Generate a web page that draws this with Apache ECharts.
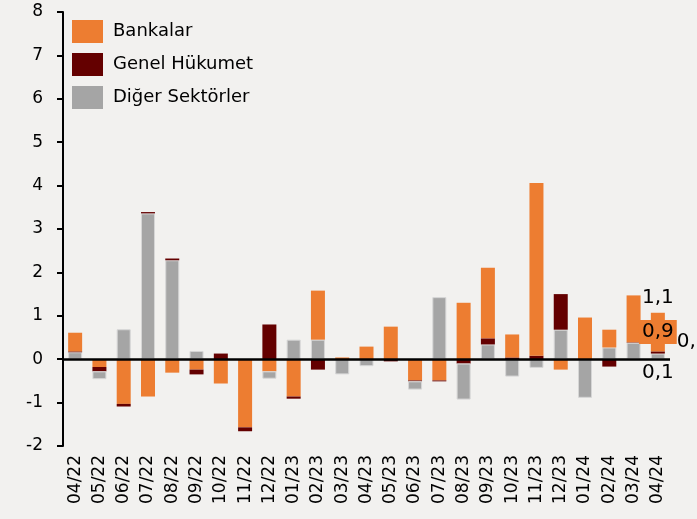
<!DOCTYPE html>
<html>
<head>
<meta charset="utf-8">
<script src="https://cdn.jsdelivr.net/npm/echarts@6/dist/echarts.min.js"></script>
<style>
  html, body { margin: 0; padding: 0; background: #F2F1EF; }
  #chart { width: 697px; height: 519px; }
</style>
</head>
<body>
<div id="chart"></div>
<script>
const categories = ['04/22', '05/22', '06/22', '07/22', '08/22', '09/22', '10/22', '11/22', '12/22',
  '01/23', '02/23', '03/23', '04/23', '05/23', '06/23', '07/23', '08/23', '09/23', '10/23', '11/23', '12/23',
  '01/24', '02/24', '03/24', '04/24'];
const bankalar = [0.43, -0.18, -1.03, -0.86, -0.31, -0.24, -0.56, -1.57, -0.28,
  -0.86, 1.13, 0.04, 0.29, 0.75, -0.49, -0.49, 1.30, 1.63, 0.53, 3.98, -0.24,
  0.96, 0.41, 1.08, 0.89];
const genelHukumet = [0.02, -0.10, -0.06, 0.03, 0.04, -0.11, 0.13, -0.09, 0.80,
  -0.05, -0.24, 0, 0, -0.05, -0.02, -0.02, -0.10, 0.14, 0.04, 0.08, 0.82,
  0, -0.17, 0.01, 0.05];
const digerSektorler = [0.16, -0.18, 0.69, 3.36, 2.28, 0.19, 0, 0, -0.17,
  0.45, 0.45, -0.35, -0.16, 0, -0.19, 1.43, -0.83, 0.34, -0.40, -0.20, 0.68,
  -0.89, 0.27, 0.38, 0.13];
const yTicks = { min: -2, max: 8, interval: 1 };
// labels written next to the last bar
const lastLabels = { total: '1,1', bankalar: '0,9', genel: '0,1', diger: '0,1' };

const FONT = 'DejaVu Sans';
const C_BANK = '#ED7D31', C_GOV = '#640000', C_OTHER = '#A5A5A5';
const last = categories.length - 1;

// positives stack gray -> red -> orange, negatives orange -> red -> gray
const pos = arr => arr.map(v => (v > 0 ? v : '-'));
const neg = arr => arr.map(v => (v < 0 ? v : '-'));

function withLabel(data, label) {
  const out = data.slice();
  out[last] = { value: data[last], label: Object.assign({ show: true, color: '#000', fontFamily: FONT, fontSize: 20 }, label) };
  return out;
}

const lastTotal = [bankalar, genelHukumet, digerSektorler]
  .reduce((s, a) => s + (a[last] > 0 ? a[last] : 0), 0);

const chart = echarts.init(document.getElementById('chart'));
chart.setOption({
  animation: false,
  backgroundColor: '#F2F1EF',
  textStyle: { fontFamily: FONT },
  grid: { left: 63, right: 27, top: 12, bottom: 73 },
  legend: {
    orient: 'vertical',
    left: 67,
    top: 15,
    itemWidth: 31,
    itemHeight: 23,
    itemGap: 10,
    icon: 'rect',
    itemStyle: { borderWidth: 0 },
    data: ['Bankalar', 'Genel Hükumet', 'Diğer Sektörler'],
    textStyle: { fontSize: 18, color: '#000', fontFamily: FONT, padding: [0, 0, 0, 5] }
  },
  xAxis: {
    type: 'category',
    data: categories,
    axisLine: { show: false, onZero: false },
    axisTick: { show: false },
    axisLabel: { rotate: 90, interval: 0, margin: 9, fontSize: 17, color: '#000', fontFamily: FONT }
  },
  yAxis: {
    type: 'value',
    min: yTicks.min,
    max: yTicks.max,
    interval: yTicks.interval,
    axisLine: { show: true, lineStyle: { color: '#000', width: 2 } },
    axisTick: { show: true, length: 6, lineStyle: { color: '#000', width: 2 } },
    splitLine: { show: false },
    axisLabel: { margin: 20, fontSize: 17, color: '#000', fontFamily: FONT }
  },
  series: [
    {
      name: 'Diğer Sektörler', type: 'bar', stack: 'all', barWidth: 14,
      itemStyle: { color: C_OTHER, borderColor: '#D6D6D6', borderWidth: 1 },
      data: withLabel(pos(digerSektorler), { position: 'bottom', distance: 4, formatter: lastLabels.diger }),
      markLine: {
        silent: true, symbol: 'none',
        label: { show: false },
        lineStyle: { color: '#000', width: 2.5, type: 'solid' },
        data: [{ yAxis: 0 }]
      }
    },
    {
      name: 'Genel Hükumet', type: 'bar', stack: 'all', barWidth: 14,
      itemStyle: { color: C_GOV },
      data: withLabel(pos(genelHukumet), { position: 'right', distance: 5, offset: [7, -11], formatter: lastLabels.genel })
    },
    {
      name: 'Bankalar', type: 'bar', stack: 'all', barWidth: 14,
      itemStyle: { color: C_BANK },
      data: withLabel(pos(bankalar), {
        position: 'inside', formatter: lastLabels.bankalar,
        backgroundColor: C_BANK, padding: [2, 3]
      }),
      markPoint: {
        symbol: 'circle', symbolSize: 0,
        label: { show: true, position: 'top', distance: 5, color: '#000', fontSize: 20, fontFamily: FONT, formatter: lastLabels.total },
        data: [{ coord: [categories[last], lastTotal] }]
      }
    },
    {
      name: 'Bankalar', type: 'bar', stack: 'all', barWidth: 14,
      itemStyle: { color: C_BANK },
      data: neg(bankalar)
    },
    {
      name: 'Genel Hükumet', type: 'bar', stack: 'all', barWidth: 14,
      itemStyle: { color: C_GOV },
      data: neg(genelHukumet)
    },
    {
      name: 'Diğer Sektörler', type: 'bar', stack: 'all', barWidth: 14,
      itemStyle: { color: C_OTHER, borderColor: '#D6D6D6', borderWidth: 1 },
      data: neg(digerSektorler)
    }
  ]
});
</script>
</body>
</html>
